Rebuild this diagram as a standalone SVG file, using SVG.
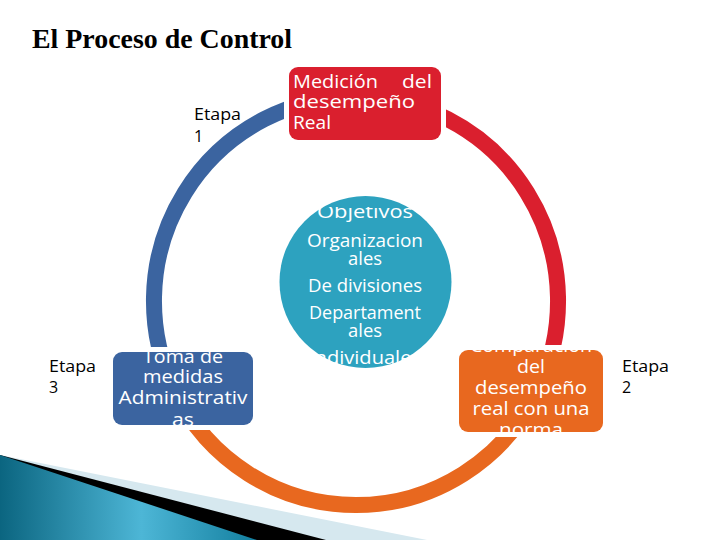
<svg xmlns="http://www.w3.org/2000/svg" width="720" height="540" viewBox="0 0 720 540">
  <style>
    .ring { fill: none; stroke-width: 16; stroke-linecap: butt; }
    .box { stroke: #ffffff; stroke-width: 10; paint-order: stroke; }
    .wt { fill: #ffffff; font-family: "Open Sans", "Noto Sans", sans-serif; }
    .lbl { fill: #000000; font-family: "Open Sans", "Noto Sans", sans-serif; font-size: 16px; }
    .ttl { fill: #000000; font-family: "Liberation Serif", "Times New Roman", serif; font-weight: bold; font-size: 27px; }
  </style>
  <defs>
    <linearGradient id="tealGrad" x1="0" y1="0" x2="1" y2="0">
      <stop offset="0" stop-color="#0B6580"/>
      <stop offset="0.55" stop-color="#4DB6D6"/>
      <stop offset="1" stop-color="#137F9F"/>
    </linearGradient>
    <clipPath id="clipCircle"><rect x="270" y="207" width="200" height="159"/></clipPath>
    <clipPath id="clipBlue"><rect x="113" y="352" width="140" height="75"/></clipPath>
    <clipPath id="clipOrange"><rect x="459" y="346" width="144" height="88"/></clipPath>
  </defs>

  <rect x="0" y="0" width="720" height="540" fill="#ffffff"/>

  <!-- decoration -->
  <g id="decoration">
    <polygon points="0,455 427,540 0,540" fill="#D6E8EF"/>
    <polygon points="0,455 326,540 0,540" fill="#000000"/>
    <polygon points="0,455 257,540 0,540" fill="url(#tealGrad)"/>
  </g>

  <text class="ttl" x="32" y="48" textLength="260" lengthAdjust="spacingAndGlyphs">El Proceso de Control</text>

  <!-- connectors: ring -->
  <g id="connectors">
    <path class="ring" stroke="#3B64A0" d="M 174.2 390 A 202 204 0 0 1 356 97"/>
    <path class="ring" stroke="#DA1F2E" d="M 356 97 A 202 204 0 0 1 537.8 390"/>
    <path class="ring" stroke="#E8681F" d="M 537.8 390 A 202 204 0 0 1 174.2 390"/>
  </g>

  <g id="center">
    <circle cx="365.5" cy="282" r="86" fill="#2DA2BF"/>
    <g clip-path="url(#clipCircle)" class="wt" font-size="18" text-anchor="middle">
      <text x="365" y="218" textLength="96" lengthAdjust="spacingAndGlyphs">Objetivos</text>
      <text x="365" y="247" textLength="116" lengthAdjust="spacingAndGlyphs">Organizacion</text>
      <text x="365" y="265" textLength="34" lengthAdjust="spacingAndGlyphs">ales</text>
      <text x="365" y="292" textLength="114" lengthAdjust="spacingAndGlyphs">De divisiones</text>
      <text x="365" y="319" textLength="112" lengthAdjust="spacingAndGlyphs">Departament</text>
      <text x="365" y="337" textLength="34" lengthAdjust="spacingAndGlyphs">ales</text>
      <text x="365" y="364" textLength="112" lengthAdjust="spacingAndGlyphs">Individuales</text>
    </g>
  </g>

  <g id="medicion">
    <rect class="box" x="289" y="67" width="152" height="73" rx="9" fill="#DA1F2E"/>
    <g class="wt" font-size="19">
      <text x="293" y="88" textLength="85" lengthAdjust="spacingAndGlyphs">Medición</text>
      <text x="432" y="88" text-anchor="end" textLength="30" lengthAdjust="spacingAndGlyphs">del</text>
      <text x="293" y="108" textLength="122" lengthAdjust="spacingAndGlyphs">desempeño</text>
      <text x="293" y="129" textLength="38" lengthAdjust="spacingAndGlyphs">Real</text>
    </g>
  </g>

  <g id="comparacion">
    <rect class="box" x="459" y="350" width="144" height="82" rx="9" fill="#E8681F"/>
    <g clip-path="url(#clipOrange)" class="wt" font-size="18" text-anchor="middle">
      <text x="531" y="352" textLength="122" lengthAdjust="spacingAndGlyphs">Comparación</text>
      <text x="531" y="373" textLength="28" lengthAdjust="spacingAndGlyphs">del</text>
      <text x="531" y="394" textLength="112" lengthAdjust="spacingAndGlyphs">desempeño</text>
      <text x="531" y="415" textLength="117" lengthAdjust="spacingAndGlyphs">real con una</text>
      <text x="531" y="436" textLength="64" lengthAdjust="spacingAndGlyphs">norma</text>
    </g>
  </g>

  <g id="toma">
    <rect class="box" x="113" y="352" width="140" height="73" rx="9" fill="#3B64A0"/>
    <g clip-path="url(#clipBlue)" class="wt" font-size="18" text-anchor="middle">
      <text x="183" y="363" textLength="80" lengthAdjust="spacingAndGlyphs">Toma de</text>
      <text x="183" y="383" textLength="80" lengthAdjust="spacingAndGlyphs">medidas</text>
      <text x="183" y="404" textLength="129" lengthAdjust="spacingAndGlyphs">Administrativ</text>
      <text x="183" y="426" textLength="22" lengthAdjust="spacingAndGlyphs">as</text>
    </g>
  </g>

  <g id="etapa1">
    <text class="lbl" x="194" y="120" textLength="47" lengthAdjust="spacingAndGlyphs">Etapa</text>
    <text class="lbl" x="194" y="142">1</text>
  </g>
  <g id="etapa2">
    <text class="lbl" x="622" y="372" textLength="47" lengthAdjust="spacingAndGlyphs">Etapa</text>
    <text class="lbl" x="622" y="393">2</text>
  </g>
  <g id="etapa3">
    <text class="lbl" x="49" y="372" textLength="47" lengthAdjust="spacingAndGlyphs">Etapa</text>
    <text class="lbl" x="49" y="393">3</text>
  </g>
</svg>
